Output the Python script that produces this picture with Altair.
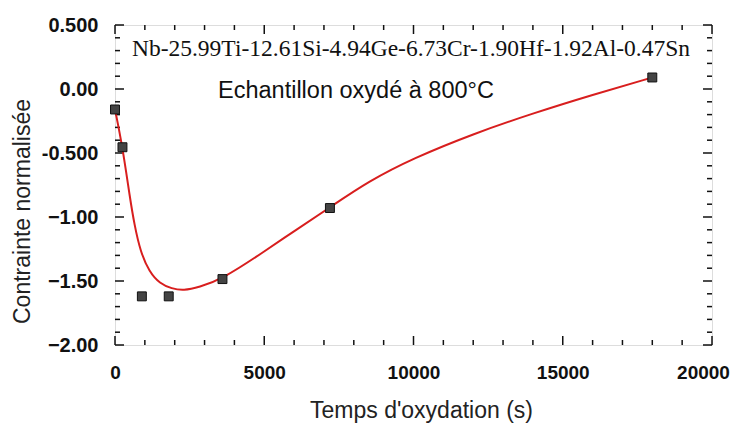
import altair as alt
import pandas as pd

# Measured points
pt_x = [0, 250, 900, 1800, 3600, 7200, 18000]
pt_y = [-0.16, -0.455, -1.62, -1.62, -1.485, -0.93, 0.09]

# Fitted curve
fit_x = [0, 250, 500, 650, 850, 1150, 1500, 1900, 2300, 2800, 3600, 5000, 6000, 7200, 8500, 10000, 12000, 14000, 16000, 18000]
fit_y = [-0.16, -0.45, -0.85, -1.06, -1.27, -1.43, -1.52, -1.56, -1.575, -1.55, -1.485, -1.27, -1.11, -0.925, -0.72, -0.54, -0.35, -0.19, -0.045, 0.09]

x_major = [0, 5000, 10000, 15000, 20000]
x_minor = [v for v in range(1000, 20000, 1000) if v % 5000 != 0]
y_major = [-2.0, -1.5, -1.0, -0.5, 0.0, 0.5]
y_minor = [round(-2.0 + 0.1 * i, 1) for i in range(26) if i % 5 != 0]

W, H = 597, 320

xs = alt.Scale(domain=[0, 20000], nice=False)
ys = alt.Scale(domain=[-2.0, 0.5], nice=False)

pts = pd.DataFrame({"x": pt_x, "y": pt_y})
fit = pd.DataFrame({"x": fit_x, "y": fit_y})

label_font = "Liberation Sans"

x_axis = alt.Axis(
    values=x_major, ticks=False, domain=False, grid=False, labelFlush=False,
    labelFont=label_font, labelFontWeight="bold", labelFontSize=19, labelColor="#111",
    labelPadding=18, labelOffset={"expr": "datum.value == 20000 ? -9 : 0"},
    title="Temps d'oxydation (s)", titleFont="Liberation Sans",
    titleFontWeight="normal", titleFontSize=23, titleColor="#222",
    titleX=306, titleY=72, titleBaseline="alphabetic", titleAlign="center",
    format="d",
)
y_axis = alt.Axis(
    values=y_major, ticks=False, domain=False, grid=False, labelFlush=False,
    labelFont=label_font, labelFontWeight="bold", labelFontSize=20, labelColor="#111",
    labelPadding=17,
    labelExpr="datum.value == 0.5 ? '0.500' : datum.value == 0 ? '0.00' : datum.value == -0.5 ? '-0.500' : format(datum.value, '.2f')",
    title="Contrainte normalisée", titleFont="Liberation Sans", titleFontWeight="normal",
    titleFontSize=23, titleColor="#222", titleX=-93, titleY=186, titleAngle=-90,
    titleAlign="center", titleBaseline="middle",
)

line = alt.Chart(fit).mark_line(color="#d81e1e", strokeWidth=2, interpolate="basis").encode(
    x=alt.X("x:Q", scale=xs, axis=x_axis),
    y=alt.Y("y:Q", scale=ys, axis=y_axis),
)

points = alt.Chart(pts).mark_point(shape="square", filled=True, size=80, color="#444",
                                   stroke="#111", strokeWidth=1, opacity=1).encode(
    x=alt.X("x:Q", scale=xs, axis=x_axis),
    y=alt.Y("y:Q", scale=ys, axis=y_axis),
)

def xticks(vals, length):
    df = pd.DataFrame({"v": vals})
    bottom = alt.Chart(df).mark_rule(color="#111", strokeWidth=1.5).encode(
        x=alt.X("v:Q", scale=xs, axis=x_axis), y=alt.value(H), y2=alt.value(H - length))
    top = alt.Chart(df).mark_rule(color="#111", strokeWidth=1.5).encode(
        x=alt.X("v:Q", scale=xs, axis=x_axis), y=alt.value(0), y2=alt.value(length))
    return [bottom, top]

def yticks(vals, length):
    df = pd.DataFrame({"v": vals})
    left = alt.Chart(df).mark_rule(color="#111", strokeWidth=1.5).encode(
        y=alt.Y("v:Q", scale=ys, axis=y_axis), x=alt.value(0), x2=alt.value(length))
    right = alt.Chart(df).mark_rule(color="#111", strokeWidth=1.5).encode(
        y=alt.Y("v:Q", scale=ys, axis=y_axis), x=alt.value(W), x2=alt.value(W - length))
    return [left, right]

ticks = xticks(x_major, 9) + xticks(x_minor, 5) + yticks(y_major, 9) + yticks(y_minor, 5)

title1 = alt.Chart(pd.DataFrame({"t": ["Nb-25.99Ti-12.61Si-4.94Ge-6.73Cr-1.90Hf-1.92Al-0.47Sn"]})).mark_text(
    font="Liberation Serif", fontSize=23.5, color="#111", align="center", baseline="middle"
).encode(text="t:N", x=alt.value(296), y=alt.value(24))

title2 = alt.Chart(pd.DataFrame({"t": ["Echantillon oxydé à 800°C"]})).mark_text(
    font="Liberation Sans", fontSize=23.5, color="#111", align="left", baseline="middle"
).encode(text="t:N", x=alt.value(103), y=alt.value(66))

chart = alt.layer(*ticks, line, points, title1, title2).properties(
    width=W, height=H,
    autosize=alt.AutoSizeParams(type="none"),
    padding={"left": 107, "top": 17, "right": 21, "bottom": 78},
).configure_view(stroke="#111", strokeWidth=2).configure(background="white")

chart.save("out.html", embed_options={"renderer": "svg", "actions": False})
